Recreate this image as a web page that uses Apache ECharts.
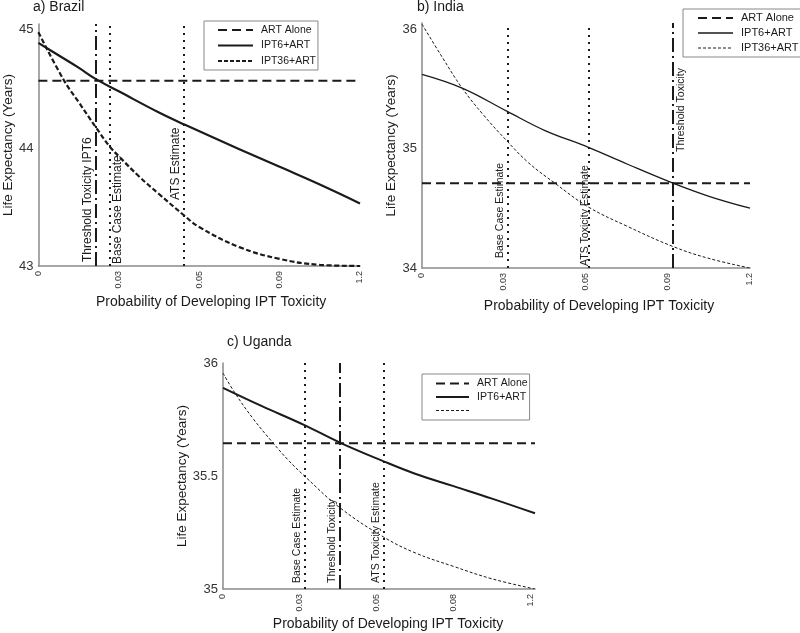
<!DOCTYPE html>
<html><head><meta charset="utf-8">
<script src="https://cdn.jsdelivr.net/npm/echarts@6/dist/echarts.min.js"></script>
<style>html,body{margin:0;padding:0;background:#fff}#chart{width:800px;height:633px}</style>
</head><body><div id="chart"></div>
<script>
// ---- tick labels (x positions are equally spaced category steps 0..4) ----
const xTickLabelsAB = ['0', '0.03', '0.05', '0.09', '1.2'];
const xTickLabelsC = ['0', '0.03', '0.05', '0.08', '1.2'];
const yTicksA = [43, 44, 45];
const yTicksB = [34, 35, 36];
const yTicksC = [35, 35.5, 36];

// ---- a) Brazil ----
const brazilArt = 44.57;
const brazilIpt6X = [0, 0.25, 0.5, 0.71, 1.0, 1.5, 1.81, 2.5, 3.0, 3.5, 4.0];
const brazilIpt6Y = [44.89, 44.785, 44.68, 44.585, 44.48, 44.30, 44.20, 43.99, 43.84, 43.69, 43.53];
const brazilIpt36X = [0, 0.32, 0.5, 0.72, 0.89, 1.0, 1.25, 1.5, 1.81, 2.0, 2.5, 3.0, 3.5, 4.0];
const brazilIpt36Y = [44.98, 44.57, 44.39, 44.17, 44.01, 43.93, 43.76, 43.61, 43.43, 43.33, 43.16, 43.06, 43.01, 43.0];
const brazilMarkerNames = ['Threshold Toxicity IPT6', 'Base Case Estimate', 'ATS Estimate'];
const brazilMarkerX = [0.71, 0.89, 1.81];

// ---- b) India ----
const indiaArt = 34.71;
const indiaIpt6X = [0, 0.49, 1.04, 1.5, 2.03, 2.5, 3.06, 3.5, 4.0];
const indiaIpt6Y = [35.62, 35.505, 35.31, 35.15, 35.01, 34.87, 34.71, 34.60, 34.50];
const indiaIpt36X = [0, 0.25, 0.49, 0.75, 1.04, 1.3, 1.62, 2.03, 2.5, 3.06, 3.5, 4.0];
const indiaIpt36Y = [36.04, 35.76, 35.505, 35.28, 35.06, 34.88, 34.71, 34.51, 34.35, 34.18, 34.08, 34.0];
const indiaMarkerNames = ['Base Case Estimate', 'ATS Toxicity Estimate', 'Threshold Toxicity'];
const indiaMarkerX = [1.04, 2.03, 3.06];

// ---- c) Uganda ----
const ugandaArt = 35.645;
const ugandaIpt6X = [0, 0.5, 1.06, 1.52, 2.09, 2.5, 3.0, 3.5, 4.06];
const ugandaIpt6Y = [35.89, 35.81, 35.725, 35.648, 35.565, 35.51, 35.455, 35.40, 35.335];
const ugandaIpt36X = [0, 0.16, 0.4, 0.655, 0.85, 1.06, 1.52, 2.09, 2.5, 3.0, 3.5, 4.06];
const ugandaIpt36Y = [35.955, 35.865, 35.75, 35.645, 35.57, 35.50, 35.36, 35.23, 35.16, 35.10, 35.045, 35.0];
const ugandaMarkerNames = ['Base Case Estimate', 'Threshold Toxicity', 'ATS Toxicity Estimate'];
const ugandaMarkerX = [1.06, 1.52, 2.09];

const FONT = 'Liberation Sans';
const INK = '#1a1a1a';
const AXIS = '#8a8a8a';
const zip = (xs, ys) => xs.map((x, i) => [x, ys[i]]);

const DASH_ART = [9, 5];
const DASH_DOT = [14, 4, 2, 4];
const DOTS = [2, 5];
const SMOOTH = 0.4;

function xAxisFor(idx, labels, max, gap, shift) {
  return {
    type: 'value', gridIndex: idx, min: 0, max: max, interval: 1,
    axisLine: { show: true, onZero: false, lineStyle: { color: AXIS, width: 1.5 } },
    axisTick: { show: false }, splitLine: { show: false },
    axisLabel: {
      rotate: 90, margin: 5, fontSize: 9, color: '#333', fontFamily: FONT,
      formatter: v => (Math.abs(v - Math.round(v)) < 1e-6 && labels[Math.round(v)] !== undefined) ? labels[Math.round(v)] : ''
    },
    name: 'Probability of Developing IPT Toxicity', nameLocation: 'middle', nameGap: gap,
    nameTextStyle: { fontSize: 14, color: INK, fontFamily: FONT, padding: [0, 0, 0, shift] }
  };
}
function yAxisFor(idx, ticks, min, max, interval, gap) {
  return {
    type: 'value', gridIndex: idx, min: min, max: max, interval: interval,
    axisLine: { show: true, onZero: false, lineStyle: { color: AXIS, width: 1.5 } },
    axisTick: { show: false }, splitLine: { show: false },
    axisLabel: {
      margin: 5, fontSize: 13, color: '#333', fontFamily: FONT,
      formatter: v => ticks.some(t => Math.abs(t - v) < 1e-6) ? String(v) : ''
    },
    name: 'Life Expectancy (Years)', nameLocation: 'middle', nameGap: gap,
    nameTextStyle: { fontSize: 13.5, color: INK, fontFamily: FONT }
  };
}
function markers(names, xs, styles, labelCfg, fontSize) {
  return {
    silent: true, symbol: ['none', 'none'], animation: false,
    data: names.map((n, i) => ({
      xAxis: xs[i], name: n,
      lineStyle: { color: INK, width: 2, type: styles[i] === 'dashdot' ? DASH_DOT : DOTS },
      label: {
        show: true, formatter: n, position: labelCfg[i].pos, distance: labelCfg[i].dist,
        fontSize: fontSize, color: INK, fontFamily: FONT
      }
    }))
  };
}
function curve(name, idx, xs, ys, style) {
  return { name: name, type: 'line', xAxisIndex: idx, yAxisIndex: idx, symbol: 'none', smooth: SMOOTH,
    data: zip(xs, ys), lineStyle: Object.assign({ color: INK }, style) };
}

const option = {
  animation: false,
  backgroundColor: '#fff',
  textStyle: { fontFamily: FONT },
  title: [
    { text: 'a) Brazil', left: 33, top: 0, padding: 0, textStyle: { fontSize: 14, fontWeight: 'normal', color: INK, fontFamily: FONT } },
    { text: 'b) India', left: 417, top: 0, padding: 0, textStyle: { fontSize: 14, fontWeight: 'normal', color: INK, fontFamily: FONT } },
    { text: 'c) Uganda', left: 227, top: 335, padding: 0, textStyle: { fontSize: 14, fontWeight: 'normal', color: INK, fontFamily: FONT } }
  ],
  grid: [
    { left: 38, top: 24, width: 322, height: 242 },
    { left: 422, top: 23, width: 328, height: 245 },
    { left: 223, top: 363, width: 312, height: 226 }
  ],
  xAxis: [
    xAxisFor(0, xTickLabelsAB, 4, 29, 24),
    xAxisFor(1, xTickLabelsAB, 4, 31, 26),
    xAxisFor(2, xTickLabelsC, 4.06, 28, 18)
  ],
  yAxis: [
    yAxisFor(0, yTicksA, 43, 45.05, 1, 23),
    yAxisFor(1, yTicksB, 34, 36.05, 1, 24),
    yAxisFor(2, yTicksC, 35, 36, 0.5, 27)
  ],
  legend: [
    {
      left: 204, top: 21, orient: 'vertical', itemWidth: 35, itemHeight: 11, itemGap: 4.5,
      padding: [3.5, 2, 3.5, 13], borderColor: '#888', borderWidth: 1, selectedMode: false,
      textStyle: { fontSize: 10.5, color: INK, fontFamily: FONT, lineHeight: 11, padding: [0, 0, 0, 3] },
      itemStyle: { opacity: 0 },
      data: [
        { name: 'ART Alone', lineStyle: { width: 2, type: DASH_ART } },
        { name: 'IPT6+ART', lineStyle: { width: 2 } },
        { name: 'IPT36+ART', lineStyle: { width: 2, type: [4, 2] } }
      ]
    },
    {
      left: 683, top: 9, orient: 'vertical', itemWidth: 35, itemHeight: 11, itemGap: 4,
      padding: [3.5, 2, 3.5, 14], borderColor: '#888', borderWidth: 1, selectedMode: false,
      textStyle: { fontSize: 11, color: INK, fontFamily: FONT, lineHeight: 11, padding: [0, 0, 0, 3] },
      itemStyle: { opacity: 0 },
      data: [
        { name: 'ART Alone', lineStyle: { width: 2, type: DASH_ART } },
        { name: 'IPT6+ART', lineStyle: { width: 1.3 } },
        { name: 'IPT36+ART', lineStyle: { width: 1, type: [3, 2] } }
      ]
    },
    {
      left: 422, top: 374, orient: 'vertical', itemWidth: 33, itemHeight: 11, itemGap: 2.5,
      padding: [4, 2, 4, 13], borderColor: '#888', borderWidth: 1, selectedMode: false,
      textStyle: { fontSize: 10.5, color: INK, fontFamily: FONT, lineHeight: 11, padding: [0, 0, 0, 3] },
      itemStyle: { opacity: 0 },
      data: [
        { name: 'ART Alone', lineStyle: { width: 2, type: DASH_ART } },
        { name: 'IPT6+ART', lineStyle: { width: 2 } },
        { name: ' ', lineStyle: { width: 1, type: [3, 2] } }
      ]
    }
  ],
  series: [
    // a) Brazil
    { name: 'ART Alone', type: 'line', xAxisIndex: 0, yAxisIndex: 0, symbol: 'none',
      data: [[0, brazilArt], [4, brazilArt]], lineStyle: { color: INK, width: 2, type: DASH_ART },
      markLine: markers(brazilMarkerNames, brazilMarkerX, ['dashdot', 'dots', 'dots'], [
        { pos: 'insideStartTop', dist: [4, 2] },
        { pos: 'insideStartBottom', dist: [2, 2] },
        { pos: 'insideStartTop', dist: [66, 2] }
      ], 12) },
    curve('IPT6+ART', 0, brazilIpt6X, brazilIpt6Y, { width: 2.2 }),
    curve('IPT36+ART', 0, brazilIpt36X, brazilIpt36Y, { width: 2.2, type: [5, 2.5] }),
    // b) India
    { name: 'ART Alone', type: 'line', xAxisIndex: 1, yAxisIndex: 1, symbol: 'none',
      data: [[0, indiaArt], [4, indiaArt]], lineStyle: { color: INK, width: 2, type: DASH_ART },
      markLine: markers(indiaMarkerNames, indiaMarkerX, ['dots', 'dots', 'dashdot'], [
        { pos: 'insideStartTop', dist: [10, 2] },
        { pos: 'insideStartTop', dist: [2, -2] },
        { pos: 'insideStartBottom', dist: [116, 3] }
      ], 10.5) },
    curve('IPT6+ART', 1, indiaIpt6X, indiaIpt6Y, { width: 1.3 }),
    curve('IPT36+ART', 1, indiaIpt36X, indiaIpt36Y, { width: 1, type: [3, 2] }),
    // c) Uganda
    { name: 'ART Alone', type: 'line', xAxisIndex: 2, yAxisIndex: 2, symbol: 'none',
      data: [[0, ugandaArt], [4.06, ugandaArt]], lineStyle: { color: INK, width: 2, type: DASH_ART },
      markLine: markers(ugandaMarkerNames, ugandaMarkerX, ['dots', 'dashdot', 'dots'], [
        { pos: 'insideStartTop', dist: [6, 2] },
        { pos: 'insideStartTop', dist: [6, 2] },
        { pos: 'insideStartTop', dist: [6, 2] }
      ], 10.5) },
    curve('IPT6+ART', 2, ugandaIpt6X, ugandaIpt6Y, { width: 2 }),
    curve(' ', 2, ugandaIpt36X, ugandaIpt36Y, { width: 1, type: [3, 2] })
  ]
};

const chart = echarts.init(document.getElementById('chart'), null, { renderer: 'canvas' });
chart.setOption(option);
</script>
</body></html>
